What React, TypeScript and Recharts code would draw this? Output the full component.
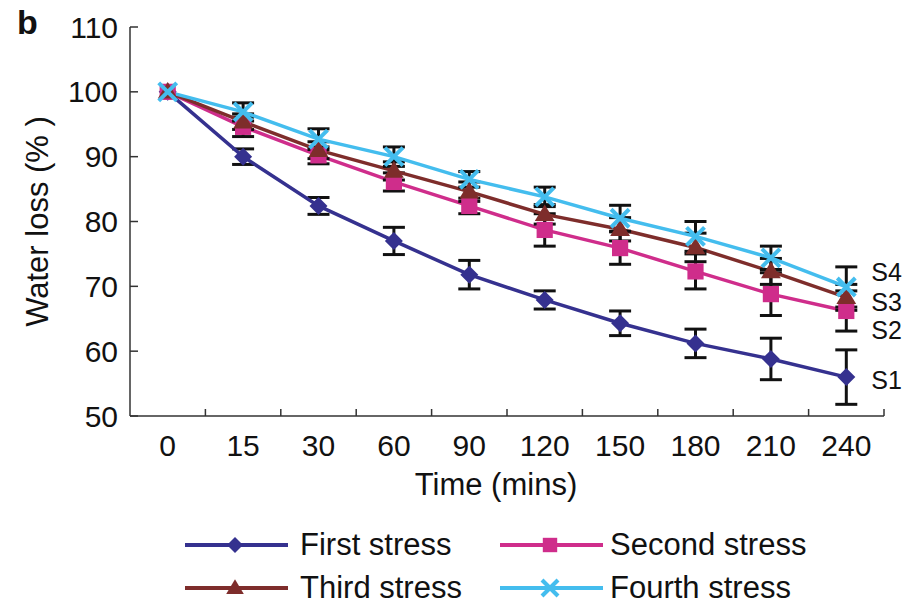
import React from 'react';
import { LineChart, Line, XAxis, YAxis, ErrorBar, Legend } from 'recharts';

const times = ['0', '15', '30', '60', '90', '120', '150', '180', '210', '240'];
const first = [100, 90.0, 82.4, 77.0, 71.8, 67.9, 64.3, 61.2, 58.8, 56.0];
const firstErr = [0, 1.2, 1.3, 2.1, 2.2, 1.4, 1.9, 2.2, 3.2, 4.2];
const second = [100, 94.6, 90.2, 86.1, 82.4, 78.7, 75.9, 72.3, 68.8, 66.2];
const secondErr = [0, 1.5, 1.3, 1.4, 1.2, 2.5, 2.5, 2.7, 3.3, 3.1];
const third = [100, 95.4, 91.0, 87.8, 84.6, 81.1, 78.8, 76.0, 72.3, 68.3];
const thirdErr = [0, 1.2, 1.3, 1.4, 1.5, 1.5, 1.8, 2.2, 2.0, 2.0];
const fourth = [100, 96.9, 92.7, 90.0, 86.5, 83.8, 80.5, 77.7, 74.4, 69.9];
const fourthErr = [0, 1.4, 1.6, 1.5, 1.2, 1.5, 2.0, 2.3, 1.8, 3.1];
const yTicks = [50, 60, 70, 80, 90, 100, 110];

const data = times.map((t, i) => ({
  time: t,
  first: first[i], firstErr: firstErr[i],
  second: second[i], secondErr: secondErr[i],
  third: third[i], thirdErr: thirdErr[i],
  fourth: fourth[i], fourthErr: fourthErr[i],
}));

const FONT = '"Liberation Sans", Arial, Helvetica, sans-serif';

const series = [
  { key: 'first', name: 'First stress', end: 'S1', color: '#35318f', shape: 'diamond', labelDy: 3 },
  { key: 'second', name: 'Second stress', end: 'S2', color: '#cf2d8b', shape: 'square', labelDy: 19 },
  { key: 'third', name: 'Third stress', end: 'S3', color: '#7e2d2b', shape: 'triangle', labelDy: 5 },
  { key: 'fourth', name: 'Fourth stress', end: 'S4', color: '#44bdee', shape: 'x', labelDy: -15 },
];

function Marker({ shape, cx, cy, color, s }: any) {
  if (shape === 'diamond') {
    return <polygon points={`${cx},${cy - s} ${cx + s},${cy} ${cx},${cy + s} ${cx - s},${cy}`} fill={color} />;
  }
  if (shape === 'square') {
    const h = s * 0.9;
    return <rect x={cx - h} y={cy - h} width={2 * h} height={2 * h} fill={color} />;
  }
  if (shape === 'triangle') {
    return <polygon points={`${cx},${cy - s * 1.1} ${cx + s * 1.1},${cy + s * 0.75} ${cx - s * 1.1},${cy + s * 0.75}`} fill={color} />;
  }
  return (
    <g stroke={color} strokeWidth={4}>
      <line x1={cx - s} y1={cy - s} x2={cx + s} y2={cy + s} />
      <line x1={cx - s} y1={cy + s} x2={cx + s} y2={cy - s} />
    </g>
  );
}

const makeDot = (shape: string, color: string) => (props: any) => {
  const { cx, cy, index } = props;
  if (cx == null || cy == null) return <g key={index} />;
  return <Marker key={index} shape={shape} cx={cx} cy={cy} color={color} s={9} />;
};

const makeEndLabel = (text: string, dy: number) => (props: any) => {
  const { x, y, index } = props;
  if (index !== times.length - 1) return <g key={index} />;
  return (
    <text key={index} x={x + 25} y={y + dy} dominantBaseline="central" fontFamily={FONT} fontSize={25} fill="#111">
      {text}
    </text>
  );
};

const CatTick = (props: any) => {
  const { x, y, payload } = props;
  const half = payload && payload.offset ? payload.offset : 0;
  return (
    <g>
      <line x1={x + half} x2={x + half} y1={y - 7} y2={y} stroke="#333" strokeWidth={1.5} />
      <text x={x} y={y + 40} textAnchor="middle" fontFamily={FONT} fontSize={30} fill="#111">
        {payload.value}
      </text>
    </g>
  );
};

const LegendBox = () => {
  const cols = [185, 500];
  const textCols = [300, 610];
  const rows = [48, 91];
  return (
    <div style={{ position: 'relative', width: 907, height: 110, fontFamily: FONT }}>
      {series.map((s, i) => {
        const left = cols[i % 2];
        const top = rows[Math.floor(i / 2)];
        return (
          <div key={s.key}>
            <svg style={{ position: 'absolute', left, top: top - 12 }} width={110} height={24}>
              <line x1={0} x2={103} y1={12} y2={12} stroke={s.color} strokeWidth={4} />
              <Marker shape={s.shape} cx={50} cy={12} color={s.color} s={8} />
            </svg>
            <div style={{ position: 'absolute', left: textCols[i % 2], top: top - 19, fontSize: 31, lineHeight: '38px', color: '#111', whiteSpace: 'nowrap' }}>
              {s.name}
            </div>
          </div>
        );
      })}
    </div>
  );
};

export default function App() {
  return (
    <div style={{ position: 'absolute', left: 0, top: 0, width: 907, height: 607, background: '#fff' }}>
      <div style={{ position: 'absolute', left: 17, top: 3, fontFamily: FONT, fontWeight: 'bold', fontSize: 34, color: '#111' }}>b</div>
      <LineChart width={907} height={607} data={data} margin={{ top: 27, right: 23, left: 0, bottom: 0 }}>
        <XAxis
          dataKey="time"
          type="category"
          scale="band"
          height={81}
          tickSize={0}
          tickMargin={0}
          tickLine={false}
          axisLine={{ stroke: '#333', strokeWidth: 1.5 }}
          tick={<CatTick />}
          interval={0}
          label={(p: any) => {
            const vb = p.viewBox;
            return (
              <text x={vb.x + vb.width / 2 - 11} y={vb.y + 79} textAnchor="middle" fontFamily={FONT} fontSize={31} fill="#111">
                Time (mins)
              </text>
            );
          }}
        />
        <YAxis
          type="number"
          domain={[50, 110]}
          ticks={yTicks}
          width={130}
          tickSize={-8}
          tickMargin={20}
          tickLine={{ stroke: '#333', strokeWidth: 1.5 }}
          axisLine={{ stroke: '#333', strokeWidth: 1.5 }}
          tick={{ fontFamily: FONT, fontSize: 30, fill: '#111' }}
          interval={0}
          label={(p: any) => {
            const vb = p.viewBox;
            const cx = vb.x + 37;
            const cy = vb.y + vb.height / 2;
            return (
              <text x={cx} y={cy} transform={`rotate(-90, ${cx}, ${cy})`} textAnchor="middle" dominantBaseline="central" fontFamily={FONT} fontSize={31} fill="#111">
                Water loss (% )
              </text>
            );
          }}
        />
        <Legend verticalAlign="bottom" content={<LegendBox />} wrapperStyle={{ left: 0, bottom: 0, width: 907, height: 110 }} />
        {series.map((s) => (
          <Line
            key={s.key}
            dataKey={s.key}
            name={s.name}
            stroke={s.color}
            strokeWidth={3.5}
            isAnimationActive={false}
            dot={makeDot(s.shape, s.color)}
            activeDot={false}
            label={makeEndLabel(s.end, s.labelDy)}
          >
            <ErrorBar dataKey={`${s.key}Err`} width={11} stroke="#111" strokeWidth={3} direction="y" />
          </Line>
        ))}
      </LineChart>
    </div>
  );
}
